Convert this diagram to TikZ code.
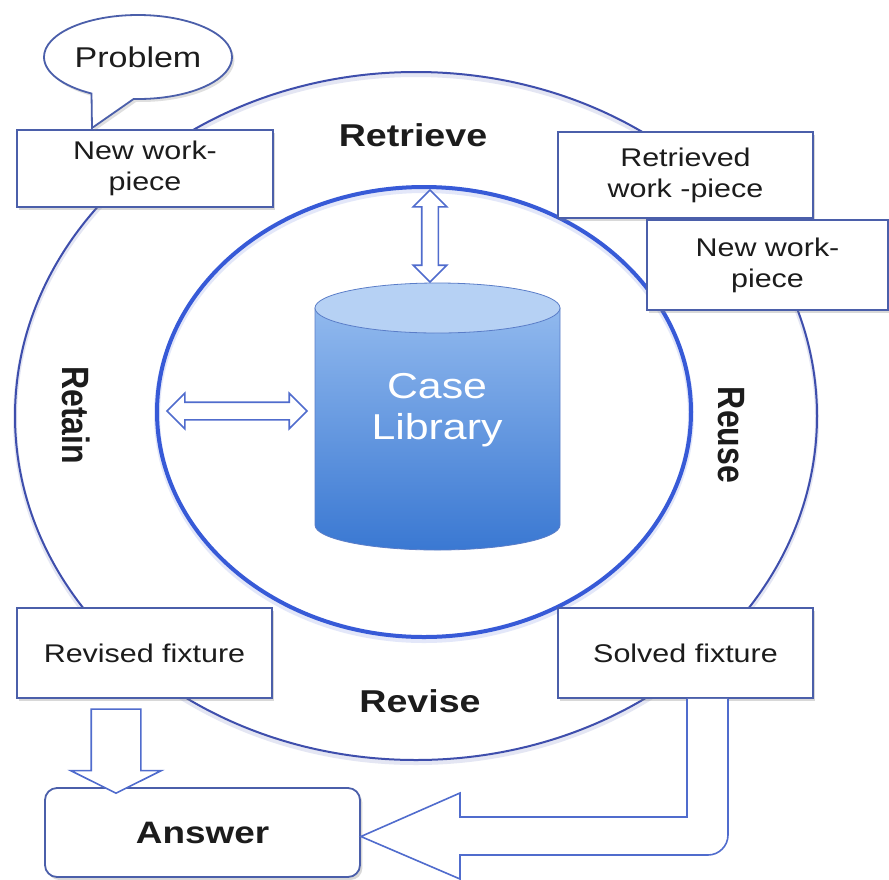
\documentclass[tikz,border=0pt]{standalone}
\usepackage{graphicx}
\usepackage{fontspec}
\setmainfont{Liberation Sans}[FakeStretch=1.19]
\newfontfamily\plainfont{Liberation Sans}
\usetikzlibrary{shapes.arrows,shapes.callouts,shadows,calc}
\definecolor{boxc}{RGB}{75,95,170}
\definecolor{outerc}{RGB}{62,78,172}
\definecolor{innerc}{RGB}{55,90,215}
\definecolor{arrc}{RGB}{80,108,205}
\definecolor{txt}{RGB}{28,28,28}
\definecolor{cyltop}{RGB}{145,185,238}
\definecolor{cylbot}{RGB}{58,120,210}
\definecolor{cylcap}{RGB}{182,209,244}
\definecolor{cyledge}{RGB}{90,125,200}
\begin{document}
\begin{tikzpicture}[x=0.5pt,y=-0.5pt,
  box/.style={draw=boxc, line width=0.9pt, fill=white, inner sep=0pt, align=center, text=txt,
    font=\fontsize{12.8}{15.5}\selectfont,
    drop shadow={shadow xshift=1.2pt, shadow yshift=-1.5pt, opacity=0.3}},
  phase/.style={text=txt, font=\bfseries\fontsize{15.8}{19}\selectfont, inner sep=0pt},
  dblarrow/.style={double arrow, draw=arrc, line width=0.8pt, fill=white, inner xsep=0pt,
    double arrow tip angle=90, minimum width=0pt},
  blockarrow/.style={draw=arrc, line width=0.8pt, fill=white, line join=miter}
]
\useasboundingbox[fill=white] (0,0) rectangle (889,879);

% rings
\draw[outerc!40, line width=2pt, opacity=0.35] (416,419) ellipse [x radius=200.5pt, y radius=172pt];
\draw[outerc, line width=1pt] (416,416) ellipse [x radius=200.5pt, y radius=172pt];
\draw[innerc!40, line width=3pt, opacity=0.35] (424,415) ellipse [x radius=133.5pt, y radius=112.5pt];
\draw[innerc, line width=2pt] (424,412) ellipse [x radius=133.5pt, y radius=112.5pt];

% case library cylinder
\shadedraw[top color=cyltop, bottom color=cylbot, draw=cyledge, line width=0.4pt]
  (315,308) -- (315,525) .. controls (315,538.8) and (369.8,550) .. (437.5,550)
  .. controls (505.2,550) and (560,538.8) .. (560,525) -- (560,308) -- cycle;
\filldraw[fill=cylcap, draw=cyledge, line width=0.4pt] (437.5,308) ellipse [x radius=61.25pt, y radius=12.5pt];
\node[text=white, font=\fontsize{18}{20.5}\selectfont, align=center, inner sep=0pt] (lib) at (437,410) {Case\\Library};

% double arrows
\node[dblarrow, inner ysep=3.75pt, double arrow head extend=4.25pt, minimum height=46pt, rotate=90] (varr) at (430,236) {};
\node[dblarrow, inner ysep=4pt, double arrow head extend=4.5pt, minimum height=70pt] (harr) at (237,411) {};

% boxes
\node[box, minimum width=128pt, minimum height=38.5pt] (nw1) at (145,168.5) {New work-\\piece};
\node[box, minimum width=127.5pt, minimum height=43pt] (rw) at (685.5,175) {Retrieved\\work -piece};
\node[box, minimum width=120.5pt, minimum height=45pt] (nw2) at (767.5,265) {New work-\\piece};
\node[box, minimum width=127.5pt, minimum height=45pt] (rf) at (144.5,653) {Revised fixture};
\node[box, minimum width=127.5pt, minimum height=45pt] (sf) at (685.5,653) {Solved fixture};
\node[box, rounded corners=6pt, minimum width=157.5pt, minimum height=44.5pt,
      font=\bfseries\fontsize{15.5}{18}\selectfont] (ans) at (202.5,832.5) {Answer};

% problem callout
\node[ellipse callout, draw=boxc, line width=0.9pt, fill=white, minimum width=94pt, minimum height=42pt,
      inner sep=0pt, callout absolute pointer={(92,128)}, callout pointer arc=27,
      font=\fontsize{14.3}{17}\selectfont, text=txt,
      drop shadow={shadow xshift=1.2pt, shadow yshift=-1.5pt, opacity=0.25}] (prob) at (138,57) {Problem};

% arrows to answer
\node[single arrow, draw=arrc, line width=0.8pt, fill=white, inner xsep=0pt, inner ysep=12pt,
      single arrow head extend=10.25pt, single arrow tip angle=127, minimum height=42pt,
      minimum width=0pt, rotate=-90] (downarr) at (116,745) {};
\coordinate (li) at (687,0);
\coordinate (lo) at (728,0);
\filldraw[blockarrow] (sf.south -| li) -- (687,817) -- (460,817) -- (460,793)
  -- ($(ans.east)+(0,4)$) -- (460,879) -- (460,855) -- (708,855)
  .. controls (719,855) and (728,846) .. (728,835) -- (sf.south -| lo);

% phase labels
\node[phase] (retrieve) at (413,135) {Retrieve};
\node[phase] (revise) at (420,701) {Revise};
\node[inner sep=0pt, text=txt] (retain) at (76,415)
  {\scalebox{1.19}[1]{\rotatebox{-90}{\plainfont\bfseries\fontsize{16}{19}\selectfont Retain}}};
\node[inner sep=0pt, text=txt] (reuse) at (731,435)
  {\scalebox{1.19}[1]{\rotatebox{-90}{\plainfont\bfseries\fontsize{16}{19}\selectfont Reuse}}};
\end{tikzpicture}
\end{document}
